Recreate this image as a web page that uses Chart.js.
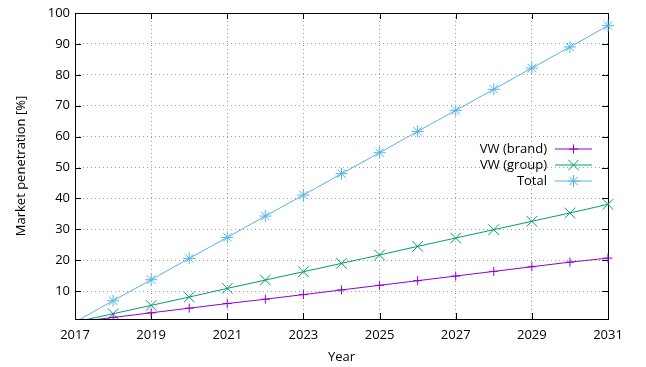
<!DOCTYPE html>
<html>
<head>
<meta charset="utf-8">
<script src="https://cdn.jsdelivr.net/npm/chart.js@4/dist/chart.umd.min.js"></script>
<style>
  html, body { margin: 0; padding: 0; background: #fff; }
  #wrap { width: 646px; height: 367px; }
</style>
</head>
<body>
<div id="wrap"><canvas id="c" width="646" height="367"></canvas></div>
<script>
// Projected market penetration of electric vehicles, per year
const years   = [2017, 2018, 2019, 2020, 2021, 2022, 2023, 2024, 2025, 2026, 2027, 2028, 2029, 2030, 2031];
const vwBrand = [0, 1.5, 3.0, 4.5, 6.0, 7.4, 8.9, 10.4, 11.9, 13.4, 14.9, 16.4, 17.9, 19.4, 20.7];
const vwGroup = [0, 2.7, 5.4, 8.1, 10.9, 13.6, 16.3, 19.0, 21.7, 24.5, 27.2, 29.9, 32.6, 35.3, 38.1];
const total   = [0, 6.9, 13.7, 20.6, 27.4, 34.3, 41.1, 48.0, 54.8, 61.7, 68.5, 75.3, 82.2, 89.0, 95.9];

const seriesNames = ['VW (brand)', 'VW (group)', 'Total'];
const xTickValues = [2017, 2019, 2021, 2023, 2025, 2027, 2029, 2031];
const yTickValues = [10, 20, 30, 40, 50, 60, 70, 80, 90, 100];

const FONT = { family: '"Open Sans", "Noto Sans", sans-serif', size: 13 };
const Y_MIN = 1, Y_MAX = 100, X_MIN = 2017, X_MAX = 2031;

function pts(values) { return years.map((x, i) => ({ x, y: values[i] })); }
// markers only for points inside the plotted range
const radiusFor = r => ctx => (ctx.raw && ctx.raw.y < Y_MIN) ? 0 : r;

const styles = [
  { color: '#9400d3', pointStyle: 'cross',    radius: 4.5 },
  { color: '#009e73', pointStyle: 'crossRot', radius: 7.5 },
  { color: '#56b4e9', pointStyle: 'star',     radius: 6 }
];
const seriesValues = [vwBrand, vwGroup, total];

const datasets = seriesValues.map((vals, i) => ({
  label: seriesNames[i],
  data: pts(vals),
  borderColor: styles[i].color,
  backgroundColor: styles[i].color,
  borderWidth: 1,
  pointStyle: styles[i].pointStyle,
  pointRadius: radiusFor(styles[i].radius),
  pointBorderWidth: 1,
  pointHoverRadius: 0,
  tension: 0,
  clip: { left: 0, top: 10, right: 10, bottom: 0 }
}));

// Frame around the plot area with inward tick marks on all four sides
const framePlugin = {
  id: 'frame',
  beforeDatasetsDraw(chart) {
    const { ctx, chartArea: a, scales } = chart;
    ctx.save();
    ctx.strokeStyle = '#000';
    ctx.lineWidth = 1;
    ctx.beginPath();
    const L = 6;
    scales.x.ticks.forEach(t => {
      const px = Math.round(scales.x.getPixelForValue(t.value)) + 0.5;
      ctx.moveTo(px, a.bottom); ctx.lineTo(px, a.bottom - L);
      ctx.moveTo(px, a.top);    ctx.lineTo(px, a.top + L);
    });
    scales.y.ticks.forEach(t => {
      const py = Math.round(scales.y.getPixelForValue(t.value)) + 0.5;
      ctx.moveTo(a.left, py);  ctx.lineTo(a.left + L, py);
      ctx.moveTo(a.right, py); ctx.lineTo(a.right - L, py);
    });
    ctx.stroke();
    ctx.strokeRect(Math.round(a.left) + 0.5, Math.round(a.top) + 0.5,
                   Math.round(a.right - a.left), Math.round(a.bottom - a.top));
    ctx.restore();
  }
};

// Key inside the plot: right-aligned names followed by a line sample with its marker
const keyPlugin = {
  id: 'key',
  afterDraw(chart) {
    const { ctx, chartArea: a } = chart;
    ctx.save();
    ctx.font = `${FONT.size}px ${FONT.family}`;
    ctx.textAlign = 'right';
    ctx.textBaseline = 'middle';
    chart.data.datasets.forEach((ds, i) => {
      const y = Math.round(a.top + 136 + i * 16);
      ctx.fillStyle = '#000';
      ctx.fillText(ds.label, a.right - 61, y + 0.5);
      const x0 = a.right - 53, x1 = a.right - 16;
      ctx.strokeStyle = ds.borderColor;
      ctx.fillStyle = ds.borderColor;
      ctx.lineWidth = 1;
      ctx.beginPath();
      ctx.moveTo(x0, y); ctx.lineTo(x1, y);
      ctx.stroke();
      Chart.helpers.drawPoint(ctx, {
        pointStyle: ds.pointStyle, radius: styles[i].radius, rotation: 0, borderWidth: 1
      }, (x0 + x1) / 2, y);
    });
    ctx.restore();
  }
};

const gridColor = (edgeValues) => (c) =>
  (c.tick && edgeValues.includes(c.tick.value)) ? 'rgba(0,0,0,0)' : '#a0a0a0';

new Chart(document.getElementById('c'), {
  type: 'line',
  data: { datasets },
  options: {
    responsive: false,
    devicePixelRatio: 1,
    animation: false,
    events: [],
    layout: { padding: { left: 0, top: 13, right: 38, bottom: 0 } },
    plugins: { legend: { display: false }, title: { display: false }, tooltip: { enabled: false } },
    scales: {
      x: {
        type: 'linear',
        min: X_MIN, max: X_MAX,
        afterBuildTicks: s => { s.ticks = xTickValues.map(v => ({ value: v })); },
        afterFit: s => { s.height = 48; },
        ticks: { padding: 8, font: FONT, color: '#000', maxRotation: 0, autoSkip: false,
                 callback: v => String(v) },
        grid: { drawTicks: false, lineWidth: 1, color: gridColor([X_MIN, X_MAX]) },
        border: { display: false, dash: [1, 3] },
        title: { display: true, text: 'Year', font: FONT, color: '#000', padding: { top: 0, bottom: 2 } }
      },
      y: {
        type: 'linear',
        min: Y_MIN, max: Y_MAX,
        afterBuildTicks: s => { s.ticks = yTickValues.map(v => ({ value: v })); },
        afterFit: s => { s.width = 75; },
        ticks: { padding: 5, font: FONT, color: '#000', autoSkip: false, callback: v => String(v) },
        grid: { drawTicks: false, lineWidth: 1, color: gridColor([Y_MAX]) },
        border: { display: false, dash: [1, 3] },
        title: { display: true, text: 'Market penetration [%]', font: FONT, color: '#000',
                 padding: { top: 13, bottom: 0 } }
      }
    }
  },
  plugins: [framePlugin, keyPlugin]
});
</script>
</body>
</html>
